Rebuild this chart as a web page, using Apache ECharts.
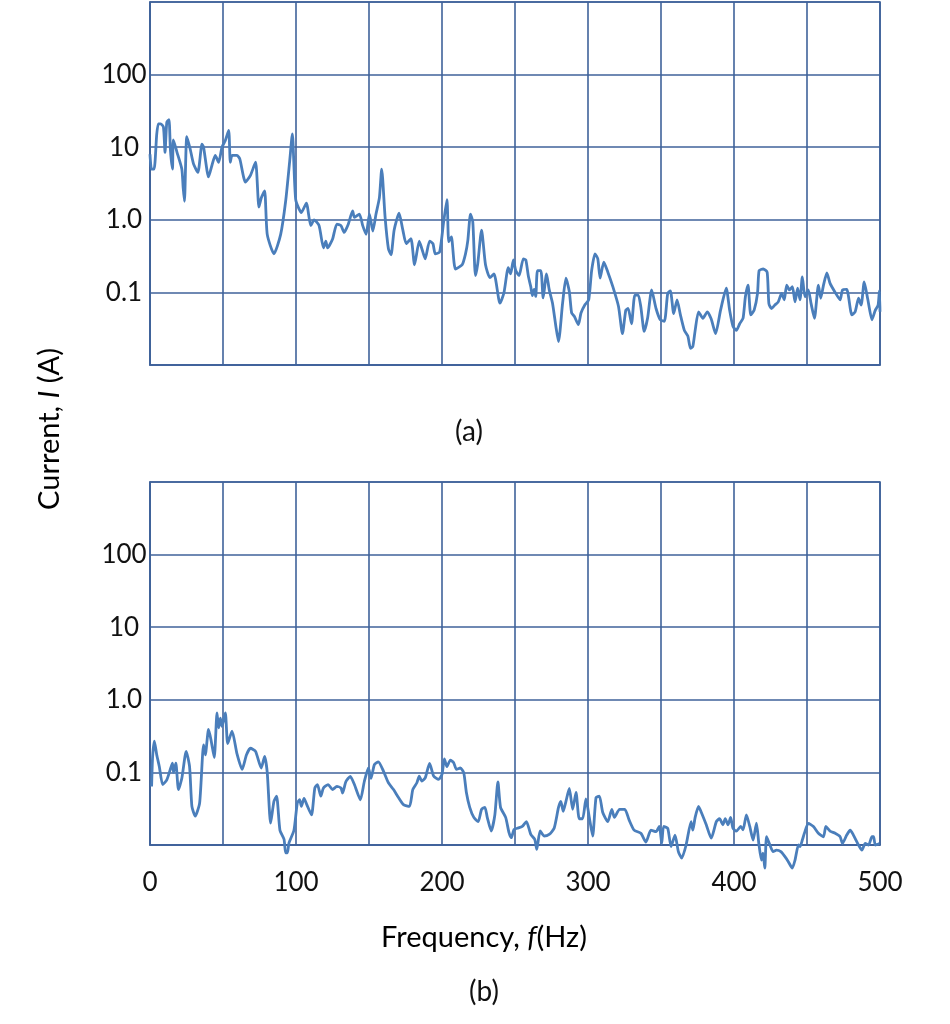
<!DOCTYPE html>
<html>
<head>
<meta charset="utf-8">
<script src="https://cdn.jsdelivr.net/npm/echarts@6/dist/echarts.min.js"></script>
<style>
html,body{margin:0;padding:0;background:#fff;}
#chart{width:950px;height:1024px;}
</style>
</head>
<body>
<div id="chart"></div>
<script>
// Panel (a)
const freqA = [0,1,2.8,4.6,5.7,7.3,9.2,10.3,11.5,13,14,15.4,16,18.5,21.8,22.7,23.6,25.2,27.5,29.8,32.8,35.6,36.7,40.1,42.4,44.7,47,49.3,51.6,53.9,55,56.2,59.6,61.5,65.4,68.8,72.3,74.6,76.2,78.5,80.3,84.9,89.5,92.9,95.7,97.5,99.8,103.7,107.1,110.1,112.4,115.8,118.8,120.4,121.6,125,128,130.8,133,135.8,138.8,140,143.4,145.7,148,150.3,152.6,154.8,157.1,158.7,161,163.3,165.1,167.2,170.6,173.2,175.5,178.7,181.2,184.4,186.2,188.5,191.5,193.8,195.4,198.4,201.1,203.4,204.6,206.4,209.2,213.8,216.1,217.7,219.5,221.1,222.9,224.5,227.1,229.8,232.8,235.6,239.7,242.4,245.4,247,248.9,250.5,252.8,255.7,257.4,259.2,260.8,261.9,263.1,264.2,265.4,267.7,269.3,271.6,273.4,275.7,278,279.8,282.6,284.9,287.2,288.8,290.6,293.4,295.2,298,300.5,302.5,304.8,306.7,308.3,310.8,313.6,317,320.9,323.6,325.9,327.5,329.8,332.1,334.4,336.2,338.5,340.8,343.6,346.6,349.5,352.3,354.6,356.4,358.7,361,363.3,366,368.4,370.2,371.8,373.4,375.7,378.7,381.7,384.4,387.4,390.8,394.7,397,399.3,401.6,403.9,406.2,407.8,409.6,411.5,413.8,416.1,417.2,420,422.7,423.9,425.7,428,430.3,432.6,434.4,436.1,438,440,441.8,443.6,445.2,446.8,448.6,450.9,452.8,455.1,457.8,459.4,461.3,463.6,465.8,469.3,472.7,474.3,477.2,480.7,483,485.3,487.1,489.2,491.7,494.5,496.8,498.7,499.6,500];
const currentA = [8,5,5,15,21,21,19,8.5,22,24,9,5,12.6,8.5,5,2.8,1.8,14,9.5,5.9,4.5,11,10,3.9,5.6,7.7,6.2,10,12.4,17,6.2,7.7,7.7,6.9,3.3,4.1,6.2,1.5,2.0,2.5,0.63,0.34,0.63,1.8,6.5,15.3,1.9,1.26,1.7,0.83,1.0,0.83,0.41,0.51,0.41,0.54,0.87,0.83,0.67,0.87,1.33,1.08,1.2,0.83,0.63,1.2,0.7,1.2,2.0,5.0,1.1,0.40,0.33,0.72,1.23,0.72,0.47,0.55,0.24,0.51,0.40,0.29,0.51,0.47,0.34,0.36,0.93,1.9,0.5,0.58,0.21,0.24,0.34,0.52,1.2,0.93,0.17,0.25,0.72,0.24,0.16,0.18,0.071,0.098,0.22,0.18,0.28,0.2,0.17,0.29,0.28,0.165,0.12,0.09,0.11,0.088,0.2,0.2,0.084,0.18,0.11,0.071,0.034,0.021,0.071,0.157,0.103,0.052,0.047,0.036,0.052,0.068,0.079,0.2,0.34,0.29,0.157,0.26,0.19,0.12,0.064,0.027,0.057,0.06,0.037,0.092,0.092,0.063,0.029,0.044,0.108,0.06,0.042,0.04,0.097,0.105,0.051,0.079,0.049,0.03,0.025,0.017,0.018,0.03,0.054,0.044,0.054,0.043,0.027,0.057,0.114,0.057,0.034,0.03,0.037,0.044,0.087,0.126,0.049,0.057,0.097,0.2,0.21,0.19,0.07,0.06,0.067,0.074,0.097,0.079,0.126,0.108,0.12,0.074,0.114,0.079,0.164,0.087,0.108,0.07,0.044,0.126,0.083,0.126,0.186,0.133,0.1,0.079,0.108,0.11,0.049,0.054,0.083,0.067,0.14,0.079,0.042,0.057,0.067,0.105,0.054];

// Panel (b)
const freqB = [1.1,1.8,3,4.6,6.4,8.7,11.5,14.2,15.4,16.1,17.7,19.5,21.8,24.8,27.1,28.7,31,34,36.7,37.9,40.1,41.8,44,45.9,47,48.2,49.3,51.6,53.2,56.2,59.6,63.1,66.1,68.8,72.3,76.2,78.5,80.3,82.6,84.9,86.7,89,91.8,92.9,94.1,95.2,98.6,100.9,102.5,103.7,105.5,107.4,110.6,112.9,114.7,117,118.8,122,125,128,130.8,131.9,134.2,137.2,140,144.1,146.8,149.6,151.4,153.7,156.4,159.9,163.3,166.8,170.2,173.6,177.7,180,182.8,184.4,186.2,188.5,191.5,194.3,197.7,200,201.6,203.4,205.7,208,209.9,212.6,214.9,216.7,219,221.8,224.8,227.1,229.4,231,233.7,236.2,238.3,240.1,243.6,245.9,247.5,249.3,251.6,255,257.8,260.8,263.5,264.9,267.2,269.9,273.4,276.8,279.8,281.4,283,284.9,287.2,289.5,291.8,294,296.3,298.6,300.9,303.2,305.5,307.8,310.1,313.6,316.3,318.1,321.6,325.2,328.2,331.6,336.2,339.7,343.1,346.6,348.9,350.5,351.8,354.6,356.9,359.6,361.9,364.2,367.2,370.6,371.8,373.4,375.7,378,381,384.4,387.9,390.1,392.4,394,395.9,397.7,399.3,401.6,404.6,406.2,408.5,410.8,413.1,415.4,417,418.8,419.9,421.1,422.3,424.6,426.8,429.1,432.1,434.9,437.2,439.9,441.8,444.1,445.2,446.8,448.2,450.9,454.4,457.8,461.3,462.9,465.8,469.3,472.7,474.3,477.2,479.6,481.8,485.3,487.6,489.9,492.2,494.5,495.6,496.8,499.6];
const currentB = [0.064,0.166,0.27,0.175,0.12,0.068,0.079,0.115,0.134,0.1,0.134,0.058,0.083,0.195,0.12,0.034,0.025,0.038,0.24,0.175,0.39,0.28,0.16,0.66,0.41,0.56,0.43,0.66,0.25,0.37,0.18,0.11,0.175,0.215,0.195,0.115,0.166,0.1,0.02,0.04,0.047,0.016,0.012,0.0078,0.0078,0.0107,0.016,0.038,0.042,0.034,0.044,0.036,0.026,0.061,0.068,0.047,0.061,0.068,0.058,0.064,0.061,0.052,0.075,0.088,0.068,0.042,0.075,0.115,0.083,0.128,0.14,0.104,0.072,0.058,0.045,0.036,0.034,0.058,0.072,0.089,0.076,0.084,0.133,0.089,0.08,0.094,0.154,0.12,0.148,0.136,0.11,0.115,0.099,0.053,0.033,0.024,0.021,0.031,0.033,0.024,0.0156,0.026,0.074,0.033,0.024,0.0148,0.0126,0.0164,0.017,0.018,0.021,0.014,0.012,0.0087,0.0156,0.0133,0.014,0.017,0.033,0.04,0.029,0.04,0.06,0.031,0.053,0.023,0.023,0.043,0.024,0.0133,0.045,0.047,0.028,0.021,0.031,0.024,0.031,0.031,0.022,0.016,0.0145,0.011,0.016,0.0153,0.018,0.0105,0.018,0.017,0.0095,0.0137,0.0081,0.0066,0.01,0.021,0.016,0.024,0.034,0.027,0.019,0.0124,0.021,0.023,0.019,0.023,0.019,0.024,0.017,0.0155,0.018,0.0162,0.026,0.018,0.0117,0.02,0.0105,0.0062,0.0077,0.0048,0.013,0.01,0.0081,0.0085,0.0081,0.0069,0.0059,0.0048,0.0062,0.01,0.0095,0.0117,0.0145,0.0199,0.018,0.0145,0.013,0.018,0.0155,0.0145,0.013,0.0105,0.0137,0.016,0.0137,0.01,0.0085,0.0105,0.01,0.013,0.013,0.01,0.0105];

const xTickLabels = ['0','100','200','300','400','500'];
const yTickLabels = ['', '0.1', '1.0', '10', '100', '']; // exponents -2..3

const FONT = 'Lato';
const GRID_COLOR = '#3f629a';
const LINE_COLOR = '#4a7ebb';

const chart = echarts.init(document.getElementById('chart'), null, {renderer: 'canvas'});

function pairs(xs, ys) { return xs.map((x, i) => [x, ys[i]]); }

function xAxisDef(idx, showLabels) {
  return {
    type: 'value', gridIndex: idx, min: 0, max: 500, interval: 50,
    axisLine: {show: true, lineStyle: {color: GRID_COLOR, width: 1.6}},
    axisTick: {show: false},
    splitLine: {show: true, lineStyle: {color: GRID_COLOR, width: 1.6}},
    axisLabel: {
      show: showLabels, margin: 25, fontFamily: FONT, fontSize: 26, color: '#111',
      formatter: v => (Math.round(v) % 100 === 0 ? xTickLabels[Math.round(v) / 100] : '')
    }
  };
}
function yAxisDef(idx) {
  return {
    type: 'log', logBase: 10, gridIndex: idx, min: 0.01, max: 1000, splitNumber: 5,
    axisLine: {show: true, lineStyle: {color: GRID_COLOR, width: 1.6}},
    axisTick: {show: false},
    splitLine: {show: true, lineStyle: {color: GRID_COLOR, width: 1.6}},
    axisLabel: {
      margin: 26, align: 'center', fontFamily: FONT, fontSize: 26, color: '#111',
      formatter: v => { const e = Math.round(Math.log10(v)); return yTickLabels[e + 2] || ''; }
    }
  };
}

const richText = {
  n: {fontFamily: FONT, fontSize: 29, color: '#111'},
  i: {fontFamily: FONT, fontSize: 29, fontStyle: 'italic', color: '#111'}
};

const option = {
  backgroundColor: '#fff',
  animation: false,
  grid: [
    {left: 150, top: 2, width: 730, height: 363, show: true, borderColor: GRID_COLOR, borderWidth: 1.6, backgroundColor: 'transparent'},
    {left: 150, top: 482, width: 730, height: 363, show: true, borderColor: GRID_COLOR, borderWidth: 1.6, backgroundColor: 'transparent'}
  ],
  xAxis: [xAxisDef(0, false), xAxisDef(1, true)],
  yAxis: [yAxisDef(0), yAxisDef(1)],
  series: [
    {type: 'line', xAxisIndex: 0, yAxisIndex: 0, data: pairs(freqA, currentA), showSymbol: false, clip: false, smooth: 0.2,
     lineStyle: {color: LINE_COLOR, width: 2.8}},
    {type: 'line', xAxisIndex: 1, yAxisIndex: 1, data: pairs(freqB, currentB), showSymbol: false, clip: false, smooth: 0.2,
     lineStyle: {color: LINE_COLOR, width: 2.8}}
  ],
  graphic: [
    {type: 'text', x: 469, y: 432, style: {text: '(a)', font: '28px Lato', fill: '#111', align: 'center', verticalAlign: 'middle'}},
    {type: 'text', x: 484, y: 992, style: {text: '(b)', font: '28px Lato', fill: '#111', align: 'center', verticalAlign: 'middle'}},
    {type: 'text', x: 484, y: 938, style: {
      text: '{n|Frequency, }{i|f}{n|(Hz)}', align: 'center', verticalAlign: 'middle', rich: richText
    }},
    {type: 'text', x: 50, y: 429, rotation: Math.PI / 2, style: {
      text: '{n|Current, }{i|I}{n| (A)}', align: 'center', verticalAlign: 'middle', rich: richText
    }}
  ]
};
chart.setOption(option);
</script>
</body>
</html>
